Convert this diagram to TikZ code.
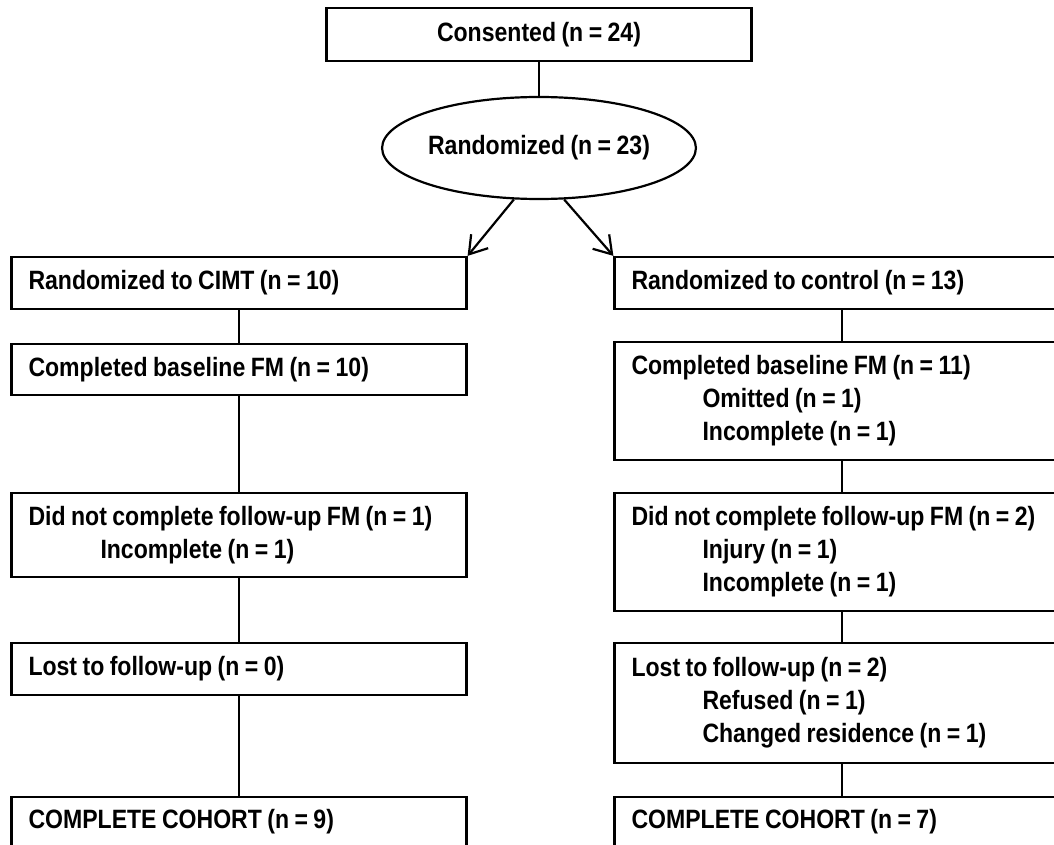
\documentclass[tikz,border=0pt]{standalone}
\usepackage{fontspec}
\setmainfont{Liberation Sans}[FakeStretch=0.87,WordSpace=0.85]
\usetikzlibrary{shapes.geometric,arrows.meta}
\newcommand\resetspaces{\spaceskip=0pt\xspaceskip=0pt\relax}
\begin{document}
\begin{tikzpicture}[x=1pt,y=-1pt,line width=2.2pt,
  txt/.style={font=\fontsize{26.5}{33}\selectfont\bfseries},
  box/.style={draw, rectangle, txt, minimum width=455pt, text width=421pt,
    inner xsep=17pt, inner ysep=0pt, align=left, execute at begin node=\resetspaces},
  conn/.style={draw, line width=2.2pt},
  arr/.style={conn, -{Straight Barb[length=17pt,width=22pt,line width=2.2pt]}}]
\clip (0,0) rectangle (1054,845);
\fill[white] (0,0) rectangle (1054,845);

\node[draw, rectangle, txt, minimum width=425pt, minimum height=53pt, inner sep=0pt] (cons) at (539,34.5) {Consented (n = 24)};
\node[draw, ellipse, txt, minimum width=247pt, minimum height=102pt, inner sep=0pt] (rand) at (539,148) {Randomized (n = 23)};

% left column
\node[box, minimum height=52pt] (l1) at (239,283) {Randomized to CIMT (n = 10)};
\node[box, minimum height=51pt] (l2) at (239,369.5) {Completed baseline FM (n = 10)};
\node[box, minimum height=84pt] (l3) at (239,535) {Did not complete follow-up FM (n = 1)\\\hspace*{72pt}Incomplete (n = 1)};
\node[box, minimum height=52pt] (l4) at (239,669) {Lost to follow-up (n = 0)};
\node[box, minimum height=50pt] (l5) at (239,822) {COMPLETE COHORT (n = 9)};

% right column
\node[box, minimum height=52pt] (r1) at (842,283) {Randomized to control (n = 13)};
\node[box, minimum height=118pt] (r2) at (842,401) {Completed baseline FM (n = 11)\\\hspace*{71pt}Omitted (n = 1)\\\hspace*{71pt}Incomplete (n = 1)};
\node[box, minimum height=118pt] (r3) at (842,552) {Did not complete follow-up FM (n = 2)\\\hspace*{71pt}Injury (n = 1)\\\hspace*{71pt}Incomplete (n = 1)};
\node[box, minimum height=120pt] (r4) at (842,703) {Lost to follow-up (n = 2)\\\hspace*{71pt}Refused (n = 1)\\\hspace*{71pt}Changed residence (n = 1)};
\node[box, minimum height=50pt] (r5) at (842,822) {COMPLETE COHORT (n = 7)};

% connectors
\draw[conn] (cons.south) -- (rand.north);
\draw[arr] (rand.-116) -- (l1.north east);
\draw[arr] (rand.-64) -- (r1.north west);
\draw[conn] (l1.south) -- (l2.north);
\draw[conn] (l2.south) -- (l3.north);
\draw[conn] (l3.south) -- (l4.north);
\draw[conn] (l4.south) -- (l5.north);
\draw[conn] (r1.south) -- (r2.north);
\draw[conn] (r2.south) -- (r3.north);
\draw[conn] (r3.south) -- (r4.north);
\draw[conn] (r4.south) -- (r5.north);
\end{tikzpicture}
\end{document}
